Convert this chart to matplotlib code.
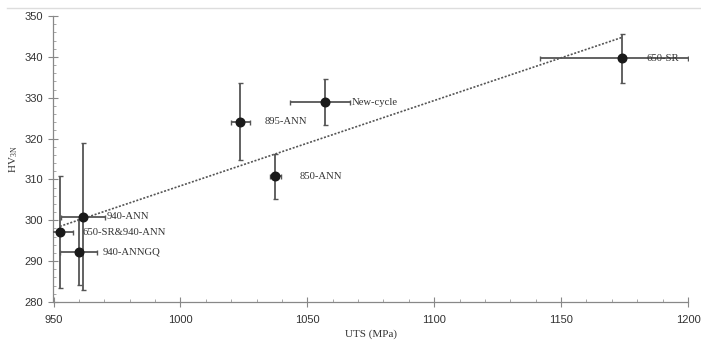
import matplotlib
matplotlib.use("Agg")
import matplotlib.pyplot as plt
import numpy as np
from matplotlib.ticker import MultipleLocator

labels = ["650-SR", "New-cycle", "895-ANN", "850-ANN", "940-ANN", "650-SR&940-ANN", "940-ANNGQ"]
uts = [1174.0, 1057.0, 1023.6, 1037.4, 961.7, 952.5, 960.0]
hv = [339.6, 328.9, 324.1, 310.8, 300.9, 297.1, 292.3]
uts_err_lo = [32.5, 14.0, 3.7, 2.2, 8.7, 5.3, 7.3]
uts_err_hi = [26.0, 10.0, 3.7, 2.2, 8.7, 5.3, 7.3]
hv_err = [6.1, 5.6, 9.4, 5.5, 17.9, 13.7, 8.1]
label_x = [1183.5, 1067.5, 1033, 1047, 971, 961.5, 969.5]

serif = ["Liberation Serif", "DejaVu Serif"]
sans = ["Liberation Sans", "DejaVu Sans"]

fig = plt.figure(figsize=(7.01, 3.43), dpi=100)
ax = fig.add_axes([53.5 / 701, (343 - 302) / 343, (688 - 53.5) / 701, (302 - 16) / 343])

ax.errorbar(uts, hv, xerr=[uts_err_lo, uts_err_hi], yerr=hv_err, fmt="o",
            color="#1a1a1a", ecolor="#555555", elinewidth=1.3, capsize=1.8,
            capthick=1.0, markersize=6.2, zorder=3)

slope, intercept = np.polyfit(uts, hv, 1)
xs = np.array([min(uts), max(uts)])
ax.plot(xs, slope * xs + intercept, linestyle=(0, (1.2, 1.0)), color="#555555",
        linewidth=1.2, zorder=2)

for lab, lx, y in zip(labels, label_x, hv):
    ax.text(lx, y, lab, fontsize=7.7, family=serif, color="#333333",
            va="center", ha="left", zorder=4)

ax.set_xlim(950, 1200)
ax.set_ylim(280, 350)
ax.xaxis.set_major_locator(MultipleLocator(50))
ax.xaxis.set_minor_locator(MultipleLocator(10))
ax.yaxis.set_major_locator(MultipleLocator(10))
ax.yaxis.set_minor_locator(MultipleLocator(2))
ax.tick_params(which="major", direction="inout", length=7, width=0.8, color="#888888",
               labelsize=8, labelcolor="#333333")
ax.tick_params(which="minor", direction="in", length=2.5, width=0.6, color="#999999")
for t in ax.get_xticklabels() + ax.get_yticklabels():
    t.set_family(sans)
ax.tick_params(axis="x", pad=6)
ax.tick_params(axis="y", pad=4)

for s in ["top", "right"]:
    ax.spines[s].set_visible(False)
for s in ["left", "bottom"]:
    ax.spines[s].set_color("#888888")
    ax.spines[s].set_linewidth(0.9)

ax.set_xlabel("UTS (MPa)", fontsize=8, family=serif, color="#333333", labelpad=3)
ax.set_ylabel(r"HV$_{\mathregular{3N}}$", fontsize=8, family=serif, color="#333333", labelpad=3)

fig.add_artist(plt.Line2D([7 / 701, 1], [1 - 8 / 343, 1 - 8 / 343], color="#dddddd",
                          linewidth=1.0, transform=fig.transFigure))

fig.savefig("out.png", dpi=100)
